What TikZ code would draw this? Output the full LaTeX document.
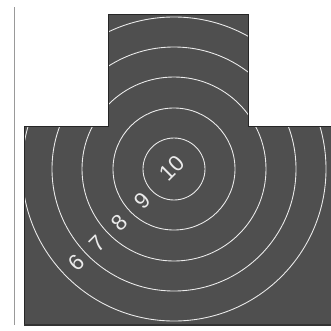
\documentclass[tikz,border=0pt]{standalone}
\usepackage{fontspec}
\setsansfont{Liberation Sans}
\usepackage{xcolor}
\colorlet{colTarget}{black!69}
\colorlet{colTargetLine}{black!85}
\colorlet{colRing}{white!92!black}
\usetikzlibrary{positioning}
\tikzset{ringlabel/.style={text=colRing, font=\sffamily\fontsize{19}{19}\selectfont, rotate=45, inner sep=0pt}}

\begin{document}
\begin{tikzpicture}[x=0.03cm, y=-0.03cm]
	\useasboundingbox (0,0) rectangle (331,331);
	\draw[gray!80, line width=0.8pt] (14,7) -- (14,325);
	\fill[colTarget] (108,14) -- (248,14) -- (248,126) -- (331,126) -- (331,325) -- (24,325) -- (24,126) -- (108,126) -- cycle;
	\coordinate (bull) at (174,169);
	\begin{scope}
		\clip (108,14) -- (248,14) -- (248,126) -- (331,126) -- (331,325) -- (24,325) -- (24,126) -- (108,126) -- cycle;
		\foreach \r in {31,61,92,122,152}
			\draw[colRing, line width=0.75pt] (bull) circle (\r);
	\end{scope}
	\draw[colTargetLine, line width=0.5pt] (108,14) -- (248,14) -- (248,126) -- (331,126);
	\draw[colTargetLine, line width=0.5pt] (108,14) -- (108,126) -- (24,126) -- (24,325) -- (331,325);
	\draw[black!80, line width=1pt] (24,325) -- (331,325);
	\node[ringlabel] (ten) at (172,168) {10};
	\node[ringlabel] (nine) at (142,201) {9};
	\node[ringlabel] (eight) at (119,223) {8};
	\node[ringlabel] (seven) at (97,244) {7};
	\node[ringlabel] (six) at (76,263) {6};
\end{tikzpicture}
\end{document}
